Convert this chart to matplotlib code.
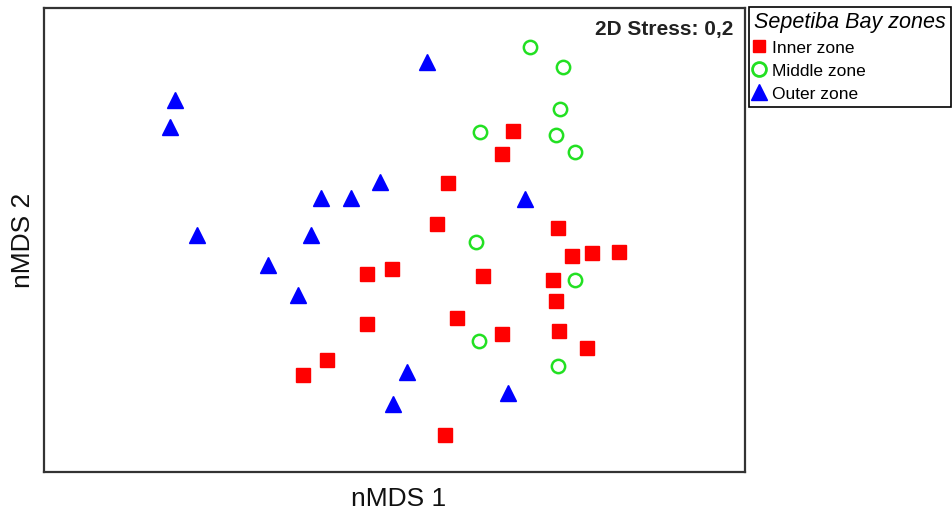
import matplotlib.pyplot as plt
from matplotlib.lines import Line2D

# nMDS ordination scores per zone (axis 1, axis 2)
inner_x = [513, 502, 448, 437, 558, 367, 392, 367, 327, 303, 572, 592, 619,
           483, 553, 556, 457, 502, 559, 587, 445]
inner_y = [131, 154, 183, 224, 228, 274, 269, 324, 360, 375, 256, 253, 252,
           276, 280, 301, 318, 334, 331, 348, 435]

middle_x = [530, 563, 560, 480, 556, 575, 476, 575, 479, 558]
middle_y = [47, 67, 109, 132, 135, 152, 242, 280, 341, 366]

outer_x = [175, 170, 427, 321, 351, 380, 197, 311, 268, 298, 525, 407, 393, 508]
outer_y = [100, 127, 62, 198, 198, 182, 235, 235, 265, 295, 199, 372, 404, 393]

stress = "0,2"

fig = plt.figure(figsize=(9.53, 5.13), dpi=100)
ax = fig.add_axes([44 / 953, 41 / 513, 701 / 953, 464 / 513])

ax.plot(inner_x, inner_y, ls='none', marker='s', ms=9.4, color='#ff0000', mec='#ff0000')
ax.plot(middle_x, middle_y, ls='none', marker='o', ms=9.6, mfc='none', mec='#22e022', mew=1.8)
ax.plot(outer_x, outer_y, ls='none', marker='^', ms=11.5, color='#0000ff', mec='#0000ff')

ax.set_xlim(44, 745)
ax.set_ylim(472, 8)
ax.set_xticks([])
ax.set_yticks([])
for s in ax.spines.values():
    s.set_linewidth(1.6)
    s.set_color('#333333')

ax.text(0.983, 0.975, "2D Stress: " + stress, transform=ax.transAxes, ha='right', va='top',
        fontsize=15, fontweight='bold', color='#222222', family='Liberation Sans')

fig.text(399 / 953, 1 - 499 / 513, "nMDS 1", ha='center', va='center', fontsize=19,
         color='#111111', family='Liberation Sans')
fig.text(23 / 953, 1 - 240 / 513, "nMDS 2", ha='center', va='center', fontsize=19,
         rotation=90, color='#111111', family='Liberation Sans')

handles = [
    Line2D([], [], ls='none', marker='s', ms=9, color='#ff0000'),
    Line2D([], [], ls='none', marker='o', ms=10, mfc='none', mec='#22e022', mew=2),
    Line2D([], [], ls='none', marker='^', ms=11.5, color='#0000ff'),
]
leg = fig.legend(handles, ["Inner zone", "Middle zone", "Outer zone"],
                 title="Sepetiba Bay zones", loc='upper left',
                 bbox_to_anchor=(749 / 953, 1 - 7 / 513), frameon=True, fancybox=False,
                 edgecolor='black', framealpha=1, handlelength=0.6, handletextpad=0.45,
                 borderpad=0.3, labelspacing=0.38, borderaxespad=0, handleheight=0.9,
                 prop={'family': 'Liberation Sans', 'size': 12.5},
                 title_fontproperties={'family': 'Liberation Sans', 'style': 'italic', 'size': 15.5})
leg._legend_box.align = 'left'
leg.get_frame().set_linewidth(1.2)

fig.savefig('out.png', dpi=100)
